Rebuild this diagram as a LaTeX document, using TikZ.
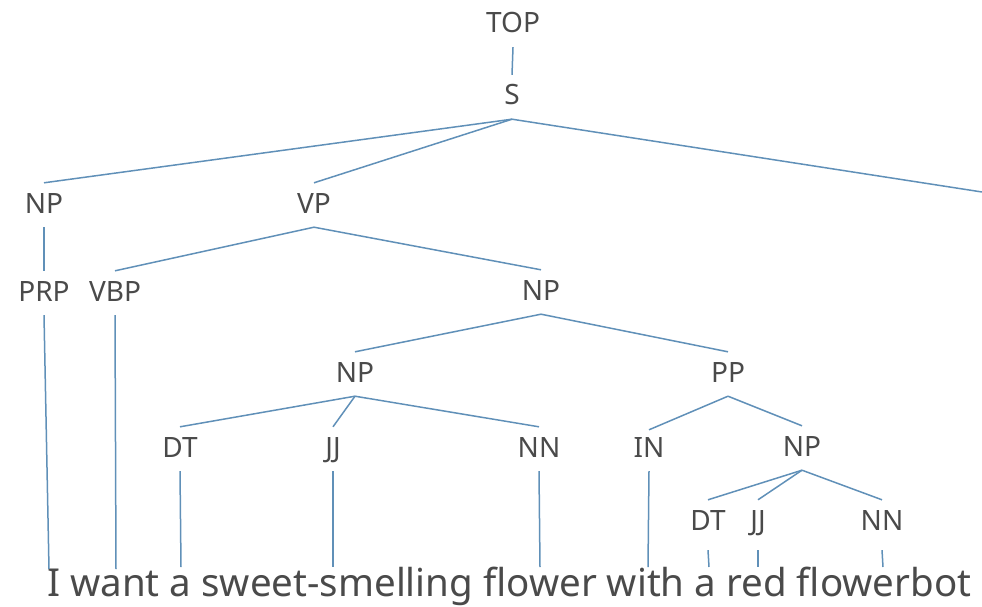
\documentclass[tikz,border=0pt]{standalone}
\usepackage{fontspec}
\setmainfont{Noto Sans}
\definecolor{edge}{HTML}{6090B8}
\definecolor{lab}{HTML}{4A4A4A}
\tikzset{
  x=1pt,y=-1pt,
  cat/.style={font=\fontsize{28}{28}\selectfont, text=lab, inner xsep=0pt, inner ysep=10pt,
              text height=20pt, text depth=4pt, anchor=base},
  br/.style={draw=edge, line width=1.5pt},
  words/.style={font=\fontsize{38.5}{38.5}\selectfont, text=lab, inner sep=0pt, anchor=base west}
}
\begin{document}
\begin{tikzpicture}
\useasboundingbox (0,0) rectangle (982,607);
% nodes
\node[cat] (top) at (513,33) {TOP};
\node[cat] (s) at (512,105) {S};
\node[cat] (np1) at (44,213) {NP};
\node[cat] (vp) at (314,213) {VP};
\coordinate (rt) at (982,192);
\node[cat] (prp) at (44,301) {PRP};
\node[cat] (vbp) at (115,301) {VBP};
\node[cat] (npv) at (541,300) {NP};
\node[cat] (np2) at (355,382) {NP};
\node[cat] (pp) at (728,382) {PP};
\node[cat] (dt) at (180,457) {DT};
\node[cat] (jj) at (333,457) {JJ};
\node[cat] (nn) at (539,457) {NN};
\node[cat] (in) at (649,457) {IN};
\node[cat] (np3) at (802,456) {NP};
\node[cat] (dtb) at (708,530) {DT};
\node[cat] (jjb) at (758,530) {JJ};
\node[cat] (nnb) at (882,530) {NN};
% sentence
\node[words] (sent) at (47,596) {I want a sweet-smelling flower with a red flowerbot};
\coordinate (w1) at (49,569);
\coordinate (w2) at (116,569);
\coordinate (w3) at (181,567);
\coordinate (w4) at (333,567);
\coordinate (w5) at (540,567);
\coordinate (w6) at (648,567);
\coordinate (w7) at (709,567);
\coordinate (w8) at (758,567);
\coordinate (w9) at (883,567);
% branches
\draw[br] (top.south) -- (s.north);
\draw[br] (s.south) -- (np1.north);
\draw[br] (s.south) -- (vp.north);
\draw[br] (s.south) -- (rt);
\draw[br] (np1.south) -- (prp.north);
\draw[br] (vp.south) -- (vbp.north);
\draw[br] (vp.south) -- (npv.north);
\draw[br] (npv.south) -- (np2.north);
\draw[br] (npv.south) -- (pp.north);
\draw[br] (np2.south) -- (dt.north);
\draw[br] (np2.south) -- (jj.north);
\draw[br] (np2.south) -- (nn.north);
\draw[br] (pp.south) -- ([yshift=-3pt]in.north);
\draw[br] (pp.south) -- (np3.north);
\draw[br] (np3.south) -- (dtb.north);
\draw[br] (np3.south) -- (jjb.north);
\draw[br] (np3.south) -- (nnb.north);
% leaves
\draw[br] (prp.south) -- (w1);
\draw[br] (vbp.south) -- (w2);
\draw[br] (dt.south) -- (w3);
\draw[br] (jj.south) -- (w4);
\draw[br] (nn.south) -- (w5);
\draw[br] (in.south) -- (w6);
\draw[br] ([yshift=-6pt]dtb.south) -- (w7);
\draw[br] ([yshift=-6pt]jjb.south) -- (w8);
\draw[br] ([yshift=-6pt]nnb.south) -- (w9);
\end{tikzpicture}
\end{document}
